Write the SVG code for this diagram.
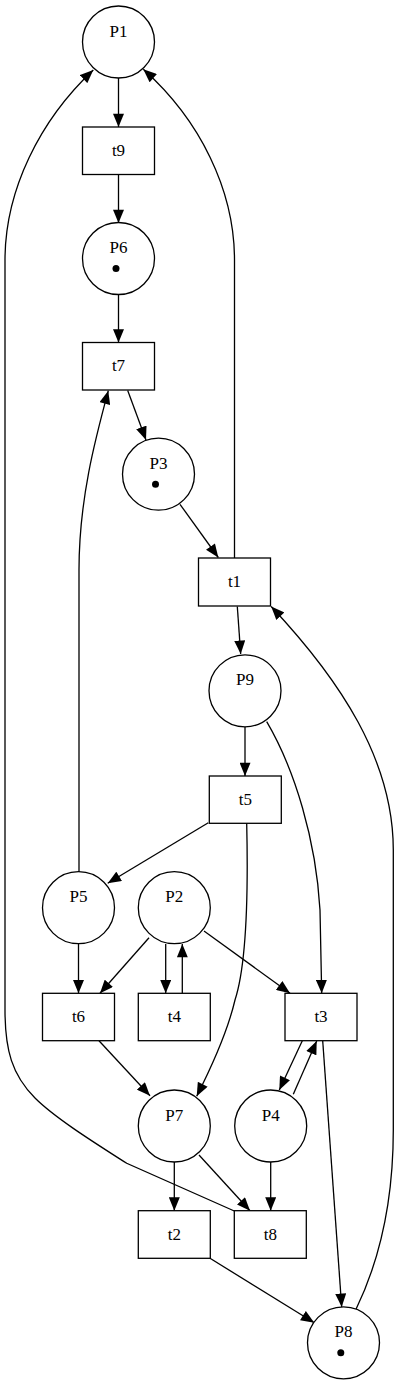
<svg xmlns="http://www.w3.org/2000/svg" width="400" height="1384" viewBox="0 0 400 1384">
<style>
.place{fill:#fff;stroke:#000;stroke-width:1.3}
.trans{fill:#fff;stroke:#000;stroke-width:1.3}
.lbl{font-family:"Liberation Serif","Times New Roman",serif;font-size:17px;text-anchor:middle;fill:#000}
.tok{fill:#000}
.edge{fill:none;stroke:#000;stroke-width:1.3;marker-end:url(#ah)}
</style>
<defs>
<marker id="ah" markerUnits="userSpaceOnUse" markerWidth="14" markerHeight="11" viewBox="0 0 13 10.7" refX="13" refY="5.35" orient="auto">
<path d="M0,0 L13,5.35 L0,10.7 z" fill="#000"/>
</marker>
</defs>
<rect width="400" height="1384" fill="#fff"/>
<g id="edges">
<path class="edge" d="M118.5,78 L118.5,127"/>
<path class="edge" d="M118.5,174.5 L118.5,223"/>
<path class="edge" d="M118.5,294.5 L118.5,342.5"/>
<path class="edge" d="M127.7,390.5 L146,440"/>
<path class="edge" d="M180,504.3 L218.3,557.5"/>
<path class="edge" d="M234.5,558 L234.5,260 C234.5,190 200,120 143.3,69.3"/>
<path class="edge" d="M79,871.7 L79,570 C79,500 95,440 108.3,390.7"/>
<path class="edge" d="M237.3,606.5 L240.7,654"/>
<path class="edge" d="M356,1309.3 C375,1270 393.3,1210 393.3,1130 L393.3,850 C393.3,760 340,680 271.2,606.5"/>
<path class="edge" d="M245,726.8 L245,776"/>
<path class="edge" d="M266.7,721.7 C295,770 316,840 320,910 L321.7,993.3"/>
<path class="edge" d="M208.3,822.7 L107.7,883.3"/>
<path class="edge" d="M246.7,823.3 C248,880 248,960 235,1000 C228,1030 215,1060 196.7,1096.2"/>
<path class="edge" d="M78.5,944 L78.5,993.3"/>
<path class="edge" d="M149,937.7 L100,993.3"/>
<path class="edge" d="M165.7,944 L165.7,993.3"/>
<path class="edge" d="M182.3,993.3 L182.3,944"/>
<path class="edge" d="M204,931 L290,993.3"/>
<path class="edge" d="M99,1040.7 L150,1095.7"/>
<path class="edge" d="M302.3,1040.7 L279.3,1090"/>
<path class="edge" d="M293.3,1094.3 L316.7,1040.9"/>
<path class="edge" d="M322.7,1040.7 L341.7,1307"/>
<path class="edge" d="M174.3,1162 L174.3,1210.7"/>
<path class="edge" d="M199,1155 L250,1210.7"/>
<path class="edge" d="M270.7,1162 L270.7,1210.7"/>
<path class="edge" d="M210,1258.3 L314.3,1322.7"/>
<path class="edge" d="M234.3,1211 L126.7,1163.3 C95,1143 55,1118 35,1098 C12,1075 5,1050 5,1010 L5,260 C5,190 40,120 93.3,70"/>
</g>
<g id="P1"><circle class="place" cx="118.5" cy="42" r="36"/><text class="lbl" x="118.5" y="36.5">P1</text></g>
<g id="t9"><rect class="trans" x="82.5" y="127" width="72" height="47.5"/><text class="lbl" x="118.5" y="155.8">t9</text></g>
<g id="P6"><circle class="place" cx="118.5" cy="258.5" r="36"/><text class="lbl" x="118.5" y="253">P6</text><circle class="tok" cx="116" cy="268.5" r="3.5"/></g>
<g id="t7"><rect class="trans" x="82.5" y="342.5" width="72" height="47.5"/><text class="lbl" x="118.5" y="371.2">t7</text></g>
<g id="P3"><circle class="place" cx="158.5" cy="474.2" r="36"/><text class="lbl" x="158.5" y="468.7">P3</text><circle class="tok" cx="155.5" cy="484.2" r="3.5"/></g>
<g id="t1"><rect class="trans" x="198.5" y="558" width="72" height="48"/><text class="lbl" x="234.5" y="587">t1</text></g>
<g id="P9"><circle class="place" cx="245" cy="690.8" r="36"/><text class="lbl" x="245" y="685.3">P9</text></g>
<g id="t5"><rect class="trans" x="209.3" y="776" width="72" height="47.3"/><text class="lbl" x="245.3" y="804.6">t5</text></g>
<g id="P5"><circle class="place" cx="78.5" cy="907.7" r="36"/><text class="lbl" x="78.5" y="902.2">P5</text></g>
<g id="P2"><circle class="place" cx="174.3" cy="907.7" r="36"/><text class="lbl" x="174.3" y="902.2">P2</text></g>
<g id="t6"><rect class="trans" x="42.5" y="993.3" width="72" height="47.4"/><text class="lbl" x="78.5" y="1022">t6</text></g>
<g id="t4"><rect class="trans" x="138.3" y="993.3" width="72" height="47.4"/><text class="lbl" x="174.3" y="1022">t4</text></g>
<g id="t3"><rect class="trans" x="285" y="993.3" width="72" height="47.4"/><text class="lbl" x="321" y="1022">t3</text></g>
<g id="P7"><circle class="place" cx="174.3" cy="1126" r="36"/><text class="lbl" x="174.3" y="1120.5">P7</text></g>
<g id="P4"><circle class="place" cx="270.7" cy="1126" r="36"/><text class="lbl" x="270.7" y="1120.5">P4</text></g>
<g id="t2"><rect class="trans" x="138.3" y="1210.7" width="72" height="47.6"/><text class="lbl" x="174.3" y="1239.5">t2</text></g>
<g id="t8"><rect class="trans" x="234.3" y="1210.7" width="72" height="47.6"/><text class="lbl" x="270.3" y="1239.5">t8</text></g>
<g id="P8"><circle class="place" cx="343.5" cy="1342.8" r="36"/><text class="lbl" x="343.5" y="1337.3">P8</text><circle class="tok" cx="340.8" cy="1352.8" r="3.5"/></g>
</svg>
